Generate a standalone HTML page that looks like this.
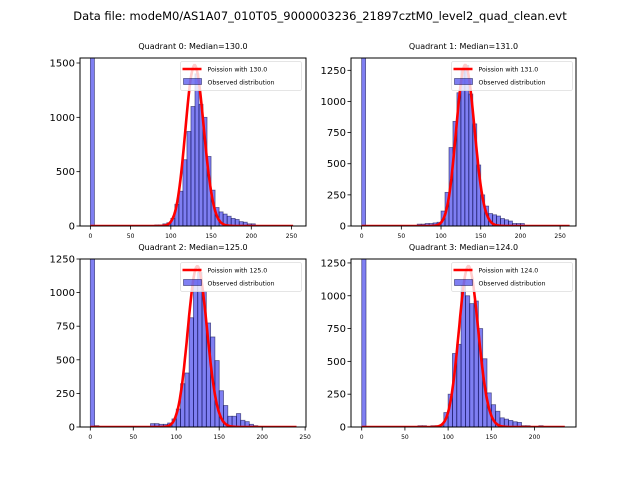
<!DOCTYPE html>
<html><head><meta charset="utf-8"><style>
body{margin:0;background:#fff;}
svg{display:block;font-family:"DejaVu Sans","Liberation Sans",sans-serif;}
</style></head><body>
<svg id="fig" width="640" height="480" viewBox="0 0 640 480">
<rect width="640" height="480" fill="#fff"/>
<text x="320" y="20" text-anchor="middle" font-size="11.5">Data file: modeM0/AS1A07_010T05_9000003236_21897cztM0_level2_quad_clean.evt</text>
</svg>
<script>
// bin width 5, index i -> bin [5i, 5i+5)
const counts0=[3000,0,0,0,0,0,0,0,0,0,0,0,0,0,0,0,10,10,20,30,70,200,320,610,870,1100,1400,1120,1000,640,330,170,130,110,90,70,60,40,35,20,20,0,0,0,0,0,0,0,0,0,0];
const counts1=[3000,0,0,0,0,0,0,0,0,0,0,0,0,0,15,15,20,20,25,30,120,270,630,840,1070,1250,1290,1060,820,490,250,160,100,90,80,60,50,40,20,20,20,0,0,0,0,0,0,0,0,0,0,0];
const counts2=[3000,10,0,0,0,0,0,0,0,0,0,0,0,0,25,25,20,20,30,60,134,322,402,813,1096,1150,1010,774,670,494,270,160,80,80,100,50,40,20,10,0,0,0,0,0,0,0,0,0];
const counts3=[3000,0,0,0,0,0,0,0,0,0,0,0,0,10,10,0,10,10,10,110,250,560,630,1080,1000,940,960,750,520,260,170,120,70,60,50,40,35,10,10,0,0,10,0,0,0,0,0];
const medians=[130,131,125,124];
const poissonPeaks=[1480,1293,1196,1225];
const poissonMax=[252,262,240,235];
const yTicks0=[0,500,1000,1500];
const yTicks1=[0,250,500,750,1000,1250];
const yTicks2=[0,250,500,750,1000,1250];
const yTicks3=[0,250,500,750,1000,1250];
const xTicks0=[0,50,100,150,200,250];
const xTicks1=[0,50,100,150,200,250];
const xTicks2=[0,50,100,150,200,250];
const xTicks3=[0,50,100,150,200];

const panels=[
 {L:80,R:306,T:58,B:226,x0:-12.9,x1:268,ymax:1546,counts:counts0,yt:yTicks0,xt:xTicks0},
 {L:351,R:576,T:58,B:226,x0:-13.4,x1:270,ymax:1349,counts:counts1,yt:yTicks1,xt:xTicks1},
 {L:80,R:306,T:259,B:427,x0:-12,x1:251,ymax:1250,counts:counts2,yt:yTicks2,xt:xTicks2},
 {L:351,R:576,T:259,B:427,x0:-12.4,x1:248,ymax:1280,counts:counts3,yt:yTicks3,xt:xTicks3}
];
const NS="http://www.w3.org/2000/svg";
const svg=document.getElementById('fig');
function mk(tag,attrs,parent){const e=document.createElementNS(NS,tag);for(const k in attrs)e.setAttribute(k,attrs[k]);(parent||svg).appendChild(e);return e;}
function lgamma(n){let s=0;for(let i=2;i<=n;i++)s+=Math.log(i);return s;}
function pmf(k,l){return Math.exp(k*Math.log(l)-l-lgamma(k));}

panels.forEach((p,q)=>{
 const g=mk('g',{});
 
 
 const cid='clip'+q;
 const cp=mk('clipPath',{id:cid},g);mk('rect',{x:p.L,y:p.T,width:p.R-p.L,height:p.B-p.T},cp);
 const sx=v=>p.L+(v-p.x0)/(p.x1-p.x0)*(p.R-p.L);
 const sy=v=>p.B-v/p.ymax*(p.B-p.T);
 const bars=mk('g',{'clip-path':'url(#'+cid+')'},g);
 p.counts.forEach((c,i)=>{
  if(c<=0)return;
  const r=mk('rect',{x:sx(i*5),y:sy(c),width:sx(i*5+5)-sx(i*5),height:p.B-sy(c),fill:'rgba(0,0,230,0.5)',stroke:'rgba(0,0,60,0.55)','stroke-width':0.8},bars);
  
  
 });
 const lam=medians[q],pk=pmf(Math.round(lam),lam);
 let pts=[];
 for(let k=0;k<=poissonMax[q];k++)pts.push(sx(k).toFixed(1)+','+sy(poissonPeaks[q]*pmf(k,lam)/pk).toFixed(1));
 const pl=mk('polyline',{points:pts.join(' '),fill:'none',stroke:'#f00','stroke-width':2.6,'clip-path':'url(#'+cid+')'},g);
 
 
 const fr=mk('rect',{x:p.L,y:p.T,width:p.R-p.L,height:p.B-p.T,fill:'none',stroke:'#000','stroke-width':1},g);
 
 
 p.yt.forEach(v=>{
  const y=sy(v);
  mk('line',{x1:p.L-3.5,x2:p.L,y1:y,y2:y,stroke:'#000','stroke-width':0.8},g);
  const t=mk('text',{x:p.L-5,y:y+3.5,'text-anchor':'end','font-size':10},g);t.textContent=v;
  
  
 });
 p.xt.forEach(v=>{
  const x=sx(v);
  mk('line',{x1:x,x2:x,y1:p.B,y2:p.B+3.5,stroke:'#000','stroke-width':0.8},g);
  const t=mk('text',{x:x,y:p.B+12,'text-anchor':'middle','font-size':6},g);t.textContent=v;
  
  
 });
 const tt=mk('text',{x:(p.L+p.R)/2,y:p.T-9,'text-anchor':'middle','font-size':8},g);
 tt.textContent='Quadrant '+q+': Median='+medians[q].toFixed(1);
 
 
 const lg=mk('g',{},g);
 
 
 const lx=p.L+100.5,ly=p.T+3.5;
 mk('rect',{x:lx,y:ly,width:121,height:29,rx:2,fill:'rgba(255,255,255,0.8)',stroke:'#ddd','stroke-width':0.8},lg);
 mk('line',{x1:lx+2,x2:lx+21,y1:ly+7.5,y2:ly+7.5,stroke:'#f00','stroke-width':2.6},lg);
 const t1=mk('text',{x:lx+27,y:ly+10,'font-size':6.2},lg);t1.textContent='Poission with '+medians[q].toFixed(1);
 
 
 mk('rect',{x:lx+3,y:ly+17,width:18,height:6,fill:'rgba(0,0,230,0.5)',stroke:'rgba(0,0,60,0.55)','stroke-width':0.8},lg);
 const t2=mk('text',{x:lx+27,y:ly+23,'font-size':6.2},lg);t2.textContent='Observed distribution';
 
 
});
</script>
</body></html>
